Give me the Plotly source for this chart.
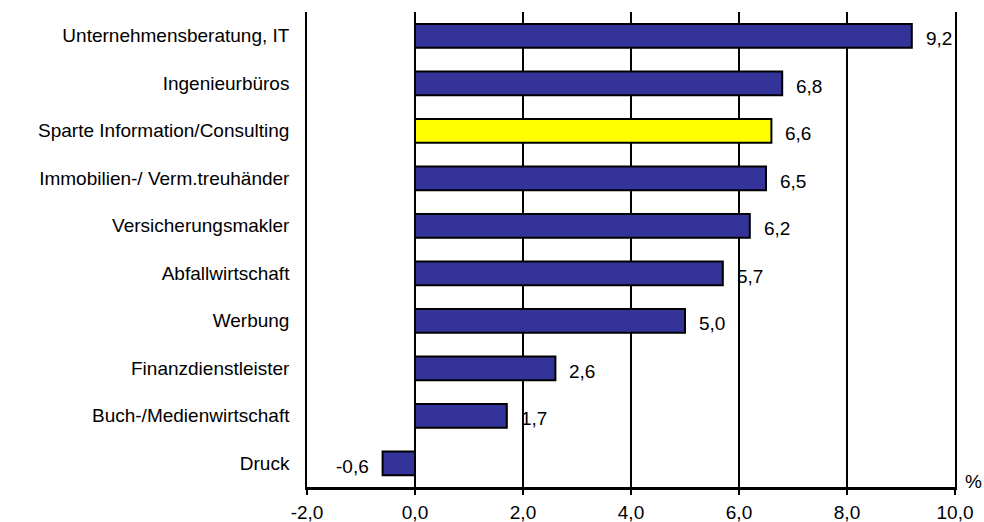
import plotly.graph_objects as go

# Sector data (percent change), listed top to bottom
categories = [
    "Unternehmensberatung, IT",
    "Ingenieurbüros",
    "Sparte Information/Consulting",
    "Immobilien-/ Verm.treuhänder",
    "Versicherungsmakler",
    "Abfallwirtschaft",
    "Werbung",
    "Finanzdienstleister",
    "Buch-/Medienwirtschaft",
    "Druck",
]
values = [9.2, 6.8, 6.6, 6.5, 6.2, 5.7, 5.0, 2.6, 1.7, -0.6]
value_labels = ["9,2", "6,8", "6,6", "6,5", "6,2", "5,7", "5,0", "2,6", "1,7", "-0,6"]
highlight = "Sparte Information/Consulting"

x_ticks = [-2, 0, 2, 4, 6, 8, 10]
x_tick_labels = ["-2,0", "0,0", "2,0", "4,0", "6,0", "8,0", "10,0"]

FONT = "Liberation Sans, Arial, sans-serif"
FS = 19
BLUE = "#333399"
YELLOW = "#FFFF00"

colors = [YELLOW if c == highlight else BLUE for c in categories]

fig = go.Figure()
fig.add_trace(go.Bar(
    x=values,
    y=categories,
    orientation="h",
    marker=dict(color=colors, line=dict(color="black", width=2)),
    showlegend=False,
    hoverinfo="skip",
))

# value labels beside the bar ends
annotations = []
for c, v, t in zip(categories, values, value_labels):
    annotations.append(dict(
        x=v, y=c, xref="x", yref="y", text=t, showarrow=False,
        xanchor="left" if v >= 0 else "right",
        xshift=12 if v >= 0 else -12, yshift=-3,
        font=dict(family=FONT, size=FS, color="black"),
    ))
annotations.append(dict(
    x=1, y=0, xref="paper", yref="paper", text="%", showarrow=False,
    xanchor="left", yanchor="middle", xshift=8, yshift=6,
    font=dict(family=FONT, size=FS, color="black"),
))

n = len(categories)
boundaries = [i - 0.5 for i in range(n + 1)]
zero_pos = (0 - x_ticks[0]) / (x_ticks[-1] - x_ticks[0])

fig.update_layout(
    width=984, height=522,
    margin=dict(l=307, r=29, t=12, b=35),
    plot_bgcolor="white", paper_bgcolor="white",
    bargap=0.5,
    font=dict(family=FONT, size=FS, color="black"),
    annotations=annotations,
    xaxis=dict(
        range=[x_ticks[0], x_ticks[-1]],
        tickmode="array", tickvals=x_ticks, ticktext=x_tick_labels,
        showgrid=True, gridcolor="black", gridwidth=1.5,
        zeroline=False,
        showline=True, linecolor="black", linewidth=3,
        ticks="outside", ticklen=5, tickwidth=1.5, tickcolor="black",
        ticklabelstandoff=1,
        tickfont=dict(family=FONT, size=FS),
        automargin=False,
    ),
    yaxis=dict(
        type="category",
        categoryorder="array", categoryarray=categories,
        range=[n - 0.5, -0.5],
        showgrid=False, zeroline=False,
        showline=True, mirror=True, linecolor="black", linewidth=1.5,
        ticks="", ticklabelstandoff=12,
        tickfont=dict(family=FONT, size=FS),
        automargin=False,
    ),
    # zero axis with category boundary ticks
    yaxis2=dict(
        overlaying="y", anchor="free", position=zero_pos, side="left",
        range=[n - 0.5, -0.5],
        tickmode="array", tickvals=boundaries, showticklabels=False,
        showgrid=False, zeroline=False,
        showline=True, linecolor="black", linewidth=3,
        ticks="outside", ticklen=5, tickwidth=1.5, tickcolor="black",
        automargin=False,
    ),
)

fig.write_html("out.html")
